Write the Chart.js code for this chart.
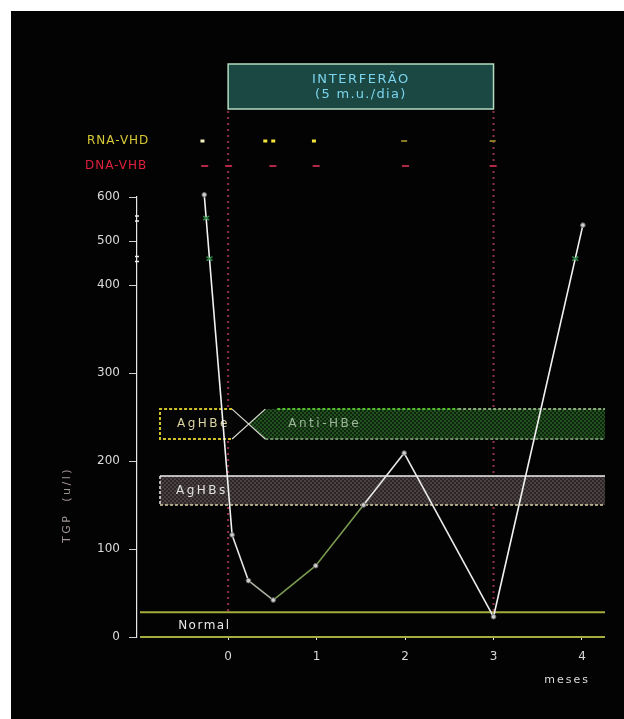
<!DOCTYPE html>
<html>
<head>
<meta charset="utf-8">
<script src="https://cdn.jsdelivr.net/npm/chart.js@4.4.0/dist/chart.umd.min.js"></script>
<style>
html,body{margin:0;padding:0;background:#ffffff;}
#wrap{width:624px;height:719px;position:relative;}
canvas{display:block;}
</style>
</head>
<body>
<div id="wrap"><canvas id="c" width="624" height="719"></canvas></div>
<script>
// ---------- data ----------
const monthTicks = [0, 1, 2, 3, 4];
const tgpTicks = [0, 100, 200, 300, 400, 500, 600];
const tgpMonths = [-0.27, 0.045, 0.23, 0.51, 0.99, 1.53, 1.99, 3.0, 4.01];
const tgpValues = [605, 116, 64, 42, 81, 150, 209, 23, 536];
const rnaMonths = [-0.29, 0.42, 0.51, 0.97, 1.99, 2.99];
const rnaPositive = [1, 1, 1, 1, 0, 0];
const dnaMonths = [-0.27, 0.0, 0.5, 0.99, 2.0, 2.99];
const interferonPeriod = [0, 3];
const normalRange = [0, 28];
const agHBeSpan = [-0.77, 0.045];
const antiHBeStart = 0.42;
const hbeBand = [225, 259];
const agHBsStart = -0.77;
const hbsBand = [150, 183];
const axisBreakValues = [460, 552];
const BREAK_AT = 400, COMPRESS = 0.5;

// ---------- styles ----------
const segColors = ['#f2f2f2', '#e6e6e6', '#aab2a2', '#7a9a50', '#7a9a50', '#e8e8e8', '#ececec', '#f2f2f2'];
const FONT = '"DejaVu Sans", "Liberation Sans", sans-serif';

// ---------- broken linear scale ----------
class BrokenLinearScale extends Chart.LinearScale {
  toEff(v) { return v > BREAK_AT ? BREAK_AT + (v - BREAK_AT) * COMPRESS : v; }
  fromEff(e) { return e > BREAK_AT ? BREAK_AT + (e - BREAK_AT) / COMPRESS : e; }
  getPixelForValue(v) { return (v === null || v === undefined || isNaN(v)) ? NaN : super.getPixelForValue(this.toEff(v)); }
  getValueForPixel(p) { return this.fromEff(super.getValueForPixel(p)); }
}
BrokenLinearScale.id = 'brokenLinear';
BrokenLinearScale.defaults = Chart.LinearScale.defaults;
Chart.register(BrokenLinearScale);

function checker(ctx, c1, c2) {
  const cv = document.createElement('canvas');
  cv.width = 4; cv.height = 4;
  const g = cv.getContext('2d');
  g.fillStyle = c1; g.fillRect(0, 0, 4, 4);
  g.fillStyle = c2; g.fillRect(0, 0, 2, 2); g.fillRect(2, 2, 2, 2);
  return ctx.createPattern(cv, 'repeat');
}

function txt(ctx, s, x, y, color, size, spacing, align, bold) {
  ctx.save();
  ctx.font = (bold ? 'bold ' : '') + size + 'px ' + FONT;
  ctx.fillStyle = color;
  ctx.textAlign = align || 'left';
  ctx.textBaseline = 'middle';
  try { ctx.letterSpacing = (spacing || 0) + 'px'; } catch (e) {}
  ctx.fillText(s, x, y);
  ctx.restore();
}

const backgroundPlugin = {
  id: 'bg',
  beforeDraw(chart) {
    const ctx = chart.ctx;
    ctx.save();
    ctx.fillStyle = '#ffffff';
    ctx.fillRect(0, 0, chart.width, chart.height);
    ctx.fillStyle = '#030303';
    ctx.fillRect(11, 11, chart.width - 11, chart.height - 11);
    ctx.restore();
  }
};

const annotationPlugin = {
  id: 'ann',
  beforeDatasetsDraw(chart) {
    const ctx = chart.ctx, xs = chart.scales.x, ys = chart.scales.y, ca = chart.chartArea;
    const X = v => xs.getPixelForValue(v), Y = v => ys.getPixelForValue(v);
    const boxTop = ca.top - 133, boxBottom = ca.top - 88;
    const yN0 = Y(normalRange[0]), yN1 = Y(normalRange[1]);

    ctx.save();
    // vertical dotted lines for the interferon period
    ctx.strokeStyle = 'rgba(180,64,92,0.8)';
    ctx.lineWidth = 2;
    ctx.setLineDash([2, 4]);
    interferonPeriod.forEach(m => {
      ctx.beginPath(); ctx.moveTo(X(m), boxBottom + 2); ctx.lineTo(X(m), yN1); ctx.stroke();
    });
    ctx.setLineDash([]);

    // interferon box
    const bx0 = X(interferonPeriod[0]), bx1 = X(interferonPeriod[1]);
    ctx.fillStyle = '#1b4842';
    ctx.fillRect(bx0, boxTop, bx1 - bx0, boxBottom - boxTop);
    ctx.strokeStyle = '#b4dcc0';
    ctx.lineWidth = 1.5;
    ctx.strokeRect(bx0, boxTop, bx1 - bx0, boxBottom - boxTop);
    txt(ctx, 'INTERFERÃO', (bx0 + bx1) / 2, boxTop + 16, '#7cd4ee', 13, 1.6, 'center');
    txt(ctx, '(5 m.u./dia)', (bx0 + bx1) / 2, boxTop + 31, '#7cd4ee', 13, 1.3, 'center');

    // marker rows
    const rnaY = ca.top - 56, dnaY = ca.top - 31;
    txt(ctx, 'RNA-VHD', 87, rnaY, '#d8c838', 12, 1, 'left');
    txt(ctx, 'DNA-VHB', 85, dnaY, '#e0203c', 12, 1, 'left');
    rnaMonths.forEach((m, i) => {
      const px = X(m);
      if (rnaPositive[i]) { ctx.fillStyle = i === 0 ? '#f4f0c0' : '#f2e43a'; ctx.fillRect(px - 2, rnaY - 1.5, 4, 3); }
      else { ctx.fillStyle = '#8a7a24'; ctx.fillRect(px - 3, rnaY - 1, 6, 2); }
    });
    ctx.fillStyle = '#b02846';
    dnaMonths.forEach(m => { ctx.fillRect(X(m) - 3, dnaY - 1, 7, 2); });

    // Normal band
    ctx.strokeStyle = '#a4ac3c';
    ctx.lineWidth = 2;
    [yN1, yN0].forEach(yy => { ctx.beginPath(); ctx.moveTo(ca.left + 3, yy); ctx.lineTo(ca.right, yy); ctx.stroke(); });
    txt(ctx, 'Normal', X(-0.565), (yN0 + yN1) / 2 + 1, '#e8e8e8', 12, 1.5, 'left');

    // AgHBs band
    const sx0 = X(agHBsStart), sT = Y(hbsBand[1]), sB = Y(hbsBand[0]);
    ctx.fillStyle = checker(ctx, '#2c2626', '#4a4242');
    ctx.fillRect(sx0, sT, ca.right - sx0, sB - sT);
    ctx.strokeStyle = '#f0f0f0'; ctx.lineWidth = 1.5;
    ctx.beginPath(); ctx.moveTo(sx0, sT); ctx.lineTo(ca.right, sT); ctx.stroke();
    ctx.setLineDash([3, 2]);
    ctx.strokeStyle = '#d8d0a8';
    ctx.beginPath(); ctx.moveTo(sx0, sB); ctx.lineTo(ca.right, sB); ctx.stroke();
    ctx.strokeStyle = '#e8e8e8';
    ctx.beginPath(); ctx.moveTo(sx0, sT); ctx.lineTo(sx0, sB); ctx.stroke();
    ctx.setLineDash([]);
    txt(ctx, 'AgHBs', sx0 + 16, (sT + sB) / 2, '#e0e0e0', 12, 2.5, 'left');

    // AgHBe / Anti-HBe band
    const eT = Y(hbeBand[1]), eB = Y(hbeBand[0]), eM = (eT + eB) / 2;
    const a0 = X(agHBeSpan[0]), a1 = X(agHBeSpan[1]), b0 = X(antiHBeStart), xc = (a1 + b0) / 2;
    ctx.fillStyle = checker(ctx, '#0e260e', '#22501f');
    ctx.beginPath();
    ctx.moveTo(xc, eM); ctx.lineTo(b0, eT); ctx.lineTo(ca.right, eT); ctx.lineTo(ca.right, eB); ctx.lineTo(b0, eB); ctx.closePath();
    ctx.fill();
    ctx.setLineDash([3, 2]);
    ctx.lineWidth = 2;
    ctx.strokeStyle = '#52c030';
    ctx.beginPath(); ctx.moveTo(b0 + 12, eT); ctx.lineTo(X(2.6), eT); ctx.stroke();
    ctx.strokeStyle = '#8aac7a';
    ctx.beginPath(); ctx.moveTo(X(2.6), eT); ctx.lineTo(ca.right, eT); ctx.stroke();
    ctx.strokeStyle = '#6e8e68';
    ctx.beginPath(); ctx.moveTo(b0, eB); ctx.lineTo(ca.right, eB); ctx.stroke();
    ctx.fillStyle = '#050505';
    ctx.beginPath();
    ctx.moveTo(a0, eT); ctx.lineTo(a1, eT); ctx.lineTo(xc, eM); ctx.lineTo(a1, eB); ctx.lineTo(a0, eB); ctx.closePath();
    ctx.fill();
    ctx.strokeStyle = '#d2c22a';
    ctx.beginPath(); ctx.moveTo(a1, eT); ctx.lineTo(a0, eT); ctx.lineTo(a0, eB); ctx.lineTo(a1, eB); ctx.stroke();
    ctx.setLineDash([]);
    ctx.strokeStyle = '#d8d8d0'; ctx.lineWidth = 1.2;
    ctx.beginPath(); ctx.moveTo(a1, eT); ctx.lineTo(b0, eB); ctx.moveTo(a1, eB); ctx.lineTo(b0, eT); ctx.stroke();
    txt(ctx, 'AgHBe', a0 + 17, eM, '#dcd4a4', 12, 2.5, 'left');
    txt(ctx, 'Anti-HBe', X(0.68), eM, '#9cb69a', 12, 2.5, 'left');

    // axis titles
    ctx.save();
    ctx.translate(67, 505);
    ctx.rotate(-Math.PI / 2);
    txt(ctx, 'TGP  (u/l)', 0, 0, '#a09494', 11, 2.5, 'center');
    ctx.restore();
    txt(ctx, 'meses', 590, 680, '#dcdcdc', 11, 2, 'right');
    ctx.restore();
  },
  afterDatasetsDraw(chart) {
    const ctx = chart.ctx, ys = chart.scales.y, ca = chart.chartArea;
    const pts = chart.getDatasetMeta(0).data;
    ctx.save();
    axisBreakValues.forEach(bv => {
      const yp = ys.getPixelForValue(bv);
      ctx.strokeStyle = '#f0f0f0'; ctx.lineWidth = 1.5;
      ctx.beginPath(); ctx.moveTo(ca.left - 2, yp - 2); ctx.lineTo(ca.left + 2, yp - 2);
      ctx.moveTo(ca.left - 2, yp + 3); ctx.lineTo(ca.left + 2, yp + 3); ctx.stroke();
      for (let i = 0; i < pts.length - 1; i++) {
        const p0 = pts[i], p1 = pts[i + 1];
        if ((p0.y - yp) * (p1.y - yp) < 0) {
          const t = (yp - p0.y) / (p1.y - p0.y);
          const xp = p0.x + t * (p1.x - p0.x);
          ctx.strokeStyle = '#2f8a4a'; ctx.lineWidth = 1.5;
          ctx.beginPath();
          ctx.moveTo(xp - 3, yp - 2); ctx.lineTo(xp + 3, yp + 2);
          ctx.moveTo(xp - 3, yp + 2); ctx.lineTo(xp + 3, yp - 2);
          ctx.stroke();
        }
      }
    });
    ctx.restore();
  }
};

new Chart(document.getElementById('c'), {
  type: 'line',
  data: {
    datasets: [{
      data: tgpMonths.map((m, i) => ({ x: m, y: tgpValues[i] })),
      borderColor: '#ececec',
      borderWidth: 1.6,
      pointRadius: 2.3,
      pointBackgroundColor: '#cfcfcf',
      pointBorderColor: '#6a6a6a',
      pointBorderWidth: 1,
      tension: 0,
      clip: false,
      segment: { borderColor: c => segColors[c.p0DataIndex] }
    }]
  },
  options: {
    responsive: false,
    animation: false,
    devicePixelRatio: 1,
    layout: { padding: { top: 197, right: 19, left: 0, bottom: 0 } },
    plugins: { legend: { display: false }, tooltip: { enabled: false } },
    scales: {
      x: {
        type: 'linear', min: -1.03, max: 4.26,
        afterBuildTicks: s => { s.ticks = monthTicks.map(v => ({ value: v })); },
        afterFit: s => { s.height = 82; },
        grid: { display: true, drawOnChartArea: false, tickLength: 3, color: '#e0e0e0', tickColor: '#e0e0e0' },
        border: { display: false },
        ticks: { color: '#d8d8d8', font: { size: 12, family: FONT }, padding: 10, autoSkip: false, maxRotation: 0, callback: v => String(v) }
      },
      y: {
        type: 'brokenLinear', min: 0, max: 500,
        afterBuildTicks: s => { s.ticks = tgpTicks.map(v => ({ value: v })); },
        afterFit: s => { s.width = 137; },
        grid: { display: true, drawOnChartArea: false, tickLength: 8, color: '#cfcfcf', tickColor: '#cfcfcf' },
        border: { display: true, color: '#e8e8e8', width: 1.2 },
        ticks: { color: '#dadada', font: { size: 12, family: FONT }, padding: 9, autoSkip: false, callback: v => String(v) }
      }
    }
  },
  plugins: [backgroundPlugin, annotationPlugin]
});
</script>
</body>
</html>
